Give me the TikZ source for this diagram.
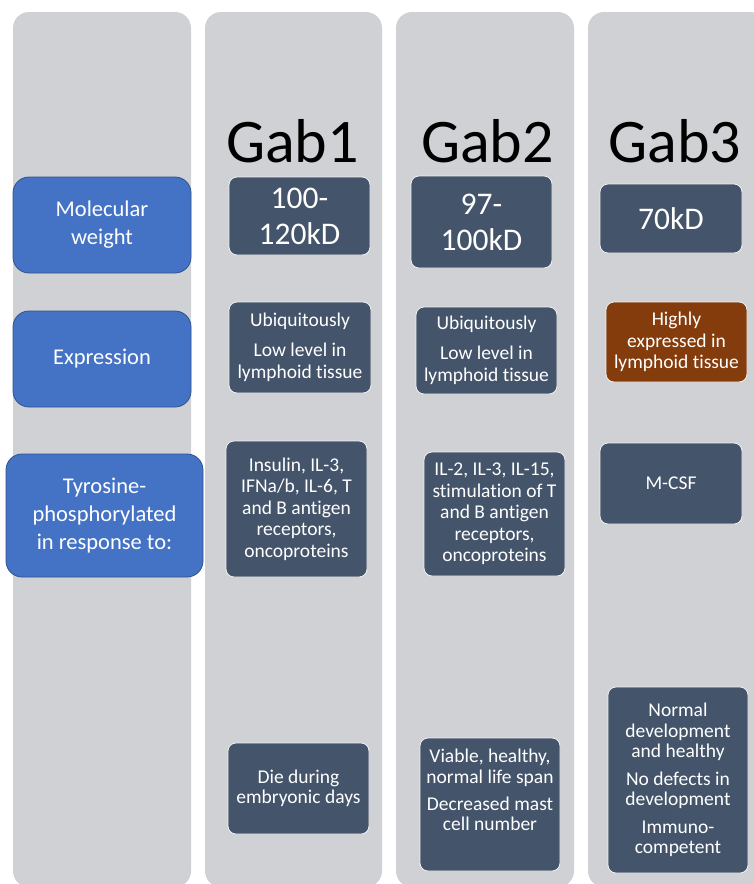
\documentclass[tikz,border=0pt]{standalone}
\usepackage{fontspec}
\setmainfont{Carlito}[RawFeature={-liga;-clig;-dlig;-calt}]

\definecolor{laneGrey}{HTML}{D0D1D5}
\definecolor{headBlue}{HTML}{4472C4}
\definecolor{headEdge}{HTML}{2F528F}
\definecolor{cellSlate}{HTML}{44546A}
\definecolor{cellRust}{HTML}{843C0C}

\begin{document}
\begin{tikzpicture}[x=1pt, y=-1pt,
    lane/.style={fill=laneGrey, rounded corners=16pt},
    rowhead/.style={draw=headEdge, fill=headBlue, text=white, rounded corners=16pt, line width=0.8pt, align=center, minimum width=178pt, minimum height=96pt, font=\fontsize{22.5}{28}\selectfont},
    gabcell/.style={draw=white!70!laneGrey, fill=cellSlate, text=white, rounded corners=8pt, line width=0.8pt, align=center, inner sep=0pt, minimum width=141pt, font=\fontsize{19.5}{21.5}\selectfont},
    gabhigh/.style={gabcell, fill=cellRust},
    mwtext/.style={font=\fontsize{31.5}{36}\selectfont},
    phenotext/.style={font=\fontsize{19.5}{20.5}\selectfont},
    gabtitle/.style={anchor=base, font=\fontsize{62}{70}\selectfont}]
    \useasboundingbox (0,0) rectangle (753,884);

    % Background lanes
    \fill[lane] (13,12) rectangle (191,887);
    \fill[lane] (205,12) rectangle (382,887);
    \fill[lane] (396,12) rectangle (574,887);
    \fill[lane] (588,12) rectangle (766,887);

    % Titles
    \node (Gab1Title) [gabtitle] at (292.5,162) {Gab1};
    \node (Gab2Title) [gabtitle] at (487.5,162) {Gab2};
    \node (Gab3Title) [gabtitle] at (675,162) {Gab3};

    % Row headers
    \node (MolWeight) [rowhead] at (102,225) {Molecular\\weight};
    \node (Expression) [rowhead] at (102,359) {Expression};
    \node (TyrPhos) [rowhead, minimum width=197pt, minimum height=123pt] at (104.5,515.5) {Tyrosine-\\phosphorylated\\in response to:};

    % Gab1
    \node (Gab1Weight) [gabcell, mwtext, minimum height=78pt] at (299.5,216) {100-\\120kD};
    \node (Gab1Expr) [gabcell, minimum width=142pt, minimum height=91pt] at (300,347.5) {Ubiquitously\\[8.5pt]Low level in\\lymphoid tissue};
    \node (Gab1Tyr) [gabcell, minimum height=136pt] at (296.5,509) {Insulin, IL-3,\\IFNa/b, IL-6, T\\and B antigen\\receptors,\\oncoproteins};
    \node (Gab1Pheno) [gabcell, phenotext, minimum height=91pt] at (298.5,788.5) {Die during\\embryonic days};

    % Gab2
    \node (Gab2Weight) [gabcell, mwtext, minimum height=92pt] at (481.5,222) {97-\\100kD};
    \node (Gab2Expr) [gabcell, minimum height=87pt] at (486.5,350.5) {Ubiquitously\\[8.5pt]Low level in\\lymphoid tissue};
    \node (Gab2Tyr) [gabcell, minimum height=124pt] at (494.5,514) {IL-2, IL-3, IL-15,\\stimulation of T\\and B antigen\\receptors,\\oncoproteins};
    \node (Gab2Pheno) [gabcell, phenotext, minimum width=140pt, minimum height=133pt] at (490,804.5) {Viable, healthy,\\normal life span\\[6.5pt]Decreased mast\\cell number\\[9pt]\mbox{}};

    % Gab3
    \node (Gab3Weight) [gabcell, mwtext, minimum width=142pt, minimum height=69pt] at (671,218.5) {70kD};
    \node (Gab3Expr) [gabhigh, minimum height=80pt] at (676.5,342) {Highly\\expressed in\\lymphoid tissue};
    \node (Gab3Tyr) [gabcell, minimum width=142pt, minimum height=81pt] at (671,483.5) {M-CSF};
    \node (Gab3Pheno) [gabcell, phenotext, minimum width=140pt, minimum height=186pt] at (678,780) {Normal\\development\\and healthy\\[7pt]No defects in\\development\\[7pt]Immuno-\\competent};

\end{tikzpicture}
\end{document}
